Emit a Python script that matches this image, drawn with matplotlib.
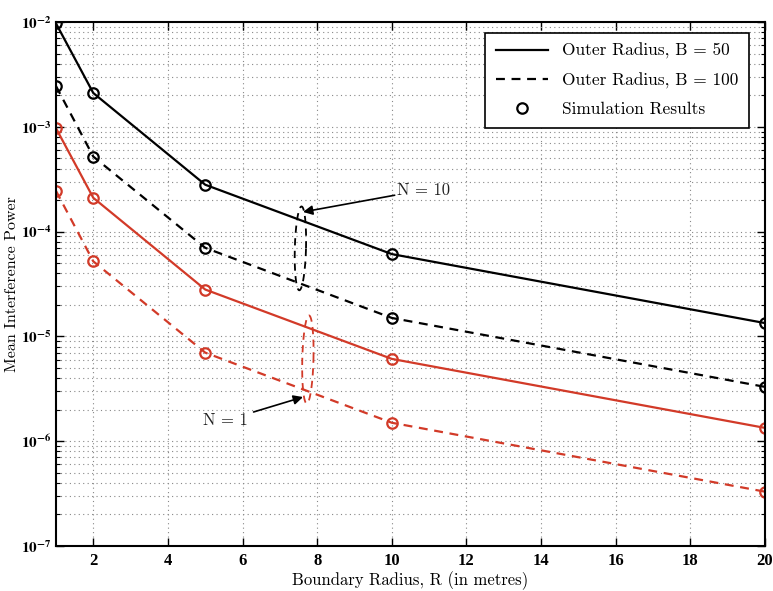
import numpy as np
import matplotlib
matplotlib.use("Agg")
import matplotlib.pyplot as plt
from matplotlib.ticker import FixedLocator, LogLocator, NullFormatter
from matplotlib.lines import Line2D

plt.rcParams['mathtext.fontset'] = 'stix'
plt.rcParams['axes.unicode_minus'] = False

R = [1, 2, 5, 10, 20]
n10_b50 = [9.7e-3, 2.1e-3, 2.8e-4, 6.1e-5, 1.34e-5]
n10_b100 = [2.45e-3, 5.2e-4, 7.0e-5, 1.5e-5, 3.3e-6]
n1_b50 = [9.7e-4, 2.1e-4, 2.8e-5, 6.1e-6, 1.34e-6]
n1_b100 = [2.45e-4, 5.2e-5, 7.0e-6, 1.5e-6, 3.3e-7]

xticks = [2, 4, 6, 8, 10, 12, 14, 16, 18, 20]
yticks = [1e-7, 1e-6, 1e-5, 1e-4, 1e-3, 1e-2]

red = '#d23a28'
cm = {'family': 'cmr10'}

fig = plt.figure(figsize=(7.73, 5.91), dpi=100)
ax = fig.add_axes([0.0724, 0.0761, 0.9173, 0.8867])

mk = dict(marker='o', ms=7.5, mfc='none', mew=1.6)
ax.plot(R, n10_b50, '-', color='black', lw=1.6, **mk)
ax.plot(R, n10_b100, '--', color='black', lw=1.6, dashes=(4, 3), **mk)
ax.plot(R, n1_b50, '-', color=red, lw=1.6, **mk)
ax.plot(R, n1_b100, '--', color=red, lw=1.6, dashes=(4, 3), **mk)

ax.set_yscale('log')
ax.set_xlim(1, 20)
ax.set_ylim(1e-7, 1e-2)
ax.xaxis.set_major_locator(FixedLocator(xticks))
ax.yaxis.set_major_locator(FixedLocator(yticks))
ax.yaxis.set_minor_locator(LogLocator(base=10, subs=np.arange(2, 10)))
ax.yaxis.set_minor_formatter(NullFormatter())
ax.set_xticklabels([str(t) for t in xticks], fontfamily='Liberation Serif',
                   fontweight='bold', fontsize=12)
ax.set_yticklabels([r'$\mathbf{10^{%d}}$' % int(np.log10(t)) for t in yticks],
                   fontsize=11)
ax.tick_params(which='both', direction='in', top=True, right=True)
ax.tick_params(which='major', length=6, width=1.0)
ax.tick_params(axis='x', which='major', pad=5)
ax.tick_params(axis='y', which='major', pad=3)
ax.tick_params(which='minor', length=3, width=0.8)
ax.grid(True, which='major', ls=(0, (1, 3)), color='#888888', lw=0.8)
ax.grid(True, which='minor', axis='y', ls=(0, (1, 3)), color='#888888', lw=0.8)
for s in ax.spines.values():
    s.set_linewidth(1.5)

ax.set_xlabel('Boundary Radius, R (in metres)', fontsize=12, va='center', **cm)
ax.set_ylabel('Mean Interference Power', fontsize=11.5, va='center', **cm)
ax.xaxis.set_label_coords(0.5, -0.066)
ax.yaxis.set_label_coords(-0.062, 0.5)


def ellipse(xc, lc, a, b, tilt, color):
    t = np.linspace(0, 2 * np.pi, 200)
    x = xc + a * np.cos(t) + tilt * np.sin(t)
    y = 10 ** (lc + b * np.sin(t))
    ax.plot(x, y, '--', color=color, lw=1.3, dashes=(4, 3))


ellipse(7.55, -4.16, 0.15, 0.40, 0.03, 'black')
ellipse(7.75, -5.22, 0.15, 0.42, 0.03, red)

ax.annotate('N = 10', xy=(7.62, 1.54e-4), xytext=(10.15, 2.5e-4),
            fontsize=12, ha='left', va='center', color='#222222',
            arrowprops=dict(arrowstyle='-|>', color='black', lw=1.2,
                            mutation_scale=14, shrinkA=0, shrinkB=0), **cm)
ax.annotate('N = 1', xy=(7.62, 2.64e-6), xytext=(6.15, 1.58e-6),
            fontsize=12, ha='right', va='center', color='#222222',
            arrowprops=dict(arrowstyle='-|>', color='black', lw=1.2,
                            mutation_scale=14, shrinkA=2, shrinkB=0), **cm)

handles = [Line2D([], [], color='black', lw=1.6, ls='-'),
           Line2D([], [], color='black', lw=1.6, ls='--', dashes=(4, 3)),
           Line2D([], [], color='black', ls='none', marker='o', ms=7.5,
                  mfc='none', mew=1.6)]
labels = ['Outer Radius, B = 50', 'Outer Radius, B = 100', 'Simulation Results']
leg = ax.legend(handles, labels, loc='upper right', prop={'family': 'cmr10', 'size': 12.5},
                fancybox=False, edgecolor='black', framealpha=1,
                handlelength=3.0, labelspacing=0.75, borderpad=0.6,
                bbox_to_anchor=(0.989, 0.996))
leg.get_frame().set_linewidth(1.2)

fig.savefig('out.png', dpi=100)
